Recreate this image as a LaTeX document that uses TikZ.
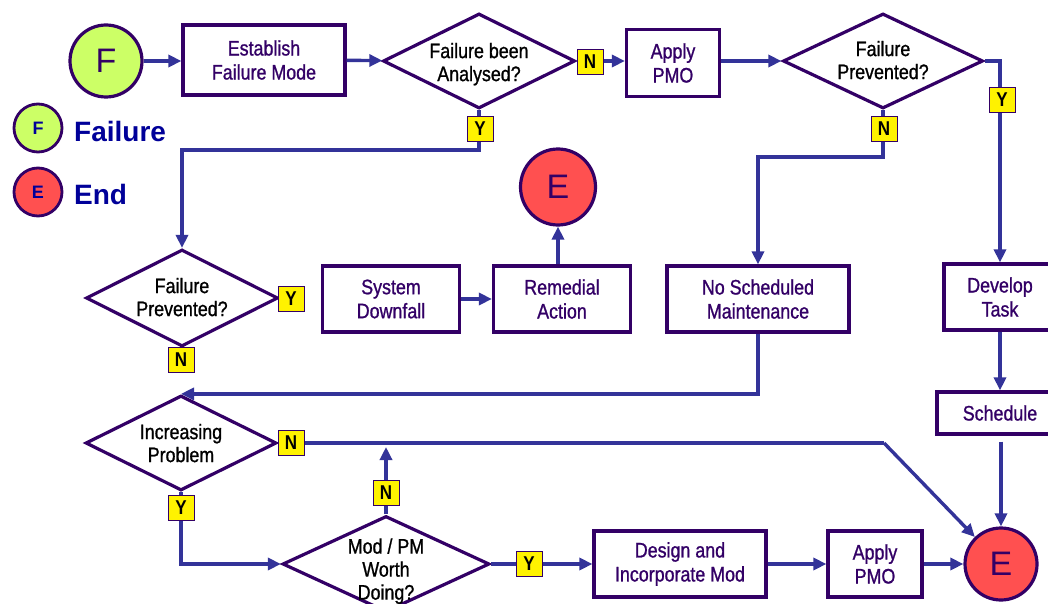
\documentclass[tikz,border=0pt]{standalone}
\usepackage{fontspec}
\setmainfont{Liberation Sans}[FakeStretch=0.85, FakeBold=1]
\newfontfamily\widefont{Liberation Sans}
\newfontfamily\tagfont{Liberation Sans}[FakeStretch=0.85]
\usetikzlibrary{shapes.geometric,arrows.meta}
\definecolor{conncol}{HTML}{333399}
\definecolor{bord}{HTML}{330066}
\definecolor{fgreen}{HTML}{CCFF66}
\definecolor{fred}{HTML}{FF5050}
\definecolor{legblue}{HTML}{000099}
\newcommand\dlines[2][-3pt]{\raisebox{#1}[\height][\depth]{\begin{tabular}{@{}c@{}}#2\end{tabular}}}
\tikzset{
  box/.style={draw=bord, line width=3.2pt, fill=white, text=bord, align=center, inner sep=0pt,
    font=\fontsize{21}{24}\selectfont},
  dia/.style={diamond, shape aspect=2, draw=bord, line width=3.2pt, fill=white, text=black, align=center,
    inner sep=-5pt, font=\fontsize{21}{23}\selectfont},
  term/.style={circle, draw=bord, line width=3.2pt, text=bord, inner sep=0pt,
    font=\widefont\fontsize{34}{34}\selectfont},
  legcirc/.style={circle, draw=bord, line width=2.8pt, text=legblue, inner sep=0pt, minimum size=48pt,
    font=\widefont\bfseries\fontsize{18}{18}\selectfont},
  legtext/.style={anchor=west, text=legblue, inner sep=0pt, font=\widefont\bfseries\fontsize{28}{28}\selectfont},
  conn/.style={draw=conncol, line width=3.4pt, -{Triangle[length=13pt,width=12pt]}},
  plain/.style={draw=conncol, line width=3.4pt},
  yn/.style={fill=yellow, draw=bord, line width=0.8pt, minimum width=26pt, minimum height=25pt, inner sep=0pt,
    text=black, font=\tagfont\bfseries\fontsize{20}{20}\selectfont}
}
\begin{document}
\begin{tikzpicture}[x=1pt,y=-1pt]
\useasboundingbox[fill=white] (0,0) rectangle (1048,604);

% terminals and legend
\node[term, fill=fgreen, minimum size=72pt] (F) at (106,61) {F};
\node[legcirc, fill=fgreen] (legF) at (38,128) {F};
\node[legtext] (legFt) at (74,131) {Failure};
\node[legcirc, fill=fred] (legE) at (38,192) {E};
\node[legtext] (legEt) at (74,194) {End};
\node[term, fill=fred, ellipse, minimum width=75pt, minimum height=76pt] (Emid) at (558,187) {E};
\node[term, fill=fred, minimum size=72pt] (Eend) at (1001,564) {E};

% boxes
\node[box, minimum width=162pt, minimum height=70pt] (est) at (264,60) {Establish\\Failure Mode};
\node[box, minimum width=93pt, minimum height=67pt] (apA) at (673,63) {Apply\\PMO};
\node[box, minimum width=137pt, minimum height=66pt] (sys) at (391,299) {System\\Downfall};
\node[box, minimum width=137pt, minimum height=66pt] (rem) at (562,299) {Remedial\\Action};
\node[box, minimum width=182pt, minimum height=66pt] (nsm) at (758,299) {No Scheduled\\Maintenance};
\node[box, minimum width=112pt, minimum height=66pt] (dev) at (1000,297) {Develop\\Task};
\node[box, minimum width=126pt, minimum height=42pt] (sched) at (1000,413) {Schedule};
\node[box, minimum width=172pt, minimum height=66pt] (des) at (680,564) {Design and\\Incorporate Mod};
\node[box, minimum width=94pt, minimum height=66pt] (apB) at (875,564) {Apply\\PMO};

% decisions
\node[dia, minimum width=192pt, minimum height=95pt] (d1) at (479,61) {\dlines[-4pt]{Failure been\\Analysed?}};
\node[dia, minimum width=200pt, minimum height=95pt] (d2) at (883,61) {\dlines[-2pt]{Failure\\Prevented?}};
\node[dia, minimum width=192pt, minimum height=97pt] (d3) at (182,298) {\dlines[-2pt]{Failure\\Prevented?}};
\node[dia, minimum width=191pt, minimum height=95pt] (d4) at (181,443) {\dlines[-3pt]{Increasing\\Problem}};
\node[dia, minimum width=207pt, minimum height=96pt] (d5) at (386,564) {\dlines[-8pt]{Mod / PM\\Worth\\Doing?}};

\coordinate (bend) at (884,443);
\coordinate (upend) at (386,447);

% connectors
\draw[conn] (F.east) -- (F.east -| est.west);
\draw[conn] (est) -- (d1);
\draw[conn] (d1.east) -- (d1.east -| apA.west);
\draw[conn] (apA.east |- d2.west) -- (d2.west);
\draw[conn] (d2.east) -| (dev.north);
\draw[conn] (d2.south) -- (d2.south |- 0,157) -| (nsm.north);
\draw[conn] (d1.south) -- (d1.south |- 0,150) -| (d3.north);
\draw[conn] (sys) -- (rem);
\draw[conn] (rem.north -| Emid.south) -- (Emid.south);
\draw[conn] (nsm.south) |- (d4.north);
\draw[plain] (d4.east) -- (bend);
\draw[conn] (bend) -- (Eend);
\draw[conn] (d4.south) |- (d5.west);
\draw[conn] (d5.north) -- (upend);
\draw[conn] (d5.east) -- (des.west);
\draw[conn] (des) -- (apB);
\draw[conn] (apB) -- (Eend);
\draw[conn] (dev) -- (sched);
\draw[conn] ([yshift=-6pt]sched.south -| Eend.north) -- (Eend.north);

% Y / N tags
\node[yn] (n1) at (590,62) {N};
\node[yn] (y1) at (480,129) {Y};
\node[yn] (n2) at (884,129) {N};
\node[yn] (y2) at (1002,100) {Y};
\node[yn] (y3) at (291,299) {Y};
\node[yn] (n3) at (181,360) {N};
\node[yn] (n4) at (291,443) {N};
\node[yn] (y4) at (181,508) {Y};
\node[yn] (n5) at (386,493) {N};
\node[yn] (y5) at (529,564) {Y};
\end{tikzpicture}
\end{document}
